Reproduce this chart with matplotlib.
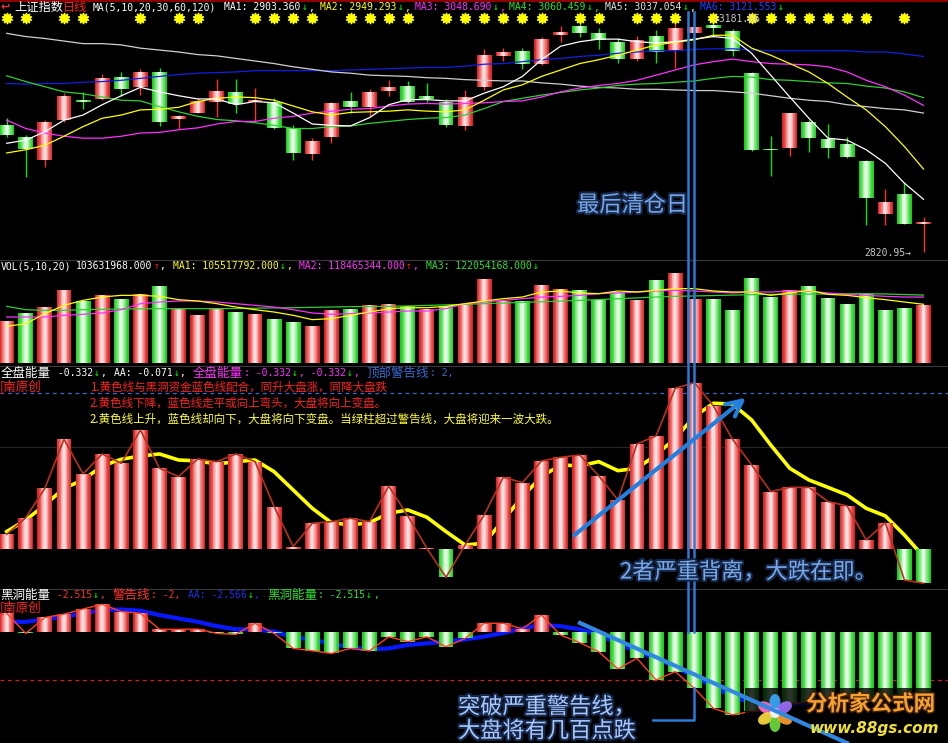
import matplotlib
matplotlib.use('Agg')
import matplotlib.pyplot as plt
import matplotlib.colors as mcolors
import matplotlib.patheffects as pe
from matplotlib.lines import Line2D
from matplotlib.patches import Rectangle, Ellipse, Circle, FancyArrowPatch
import numpy as np

W, H = 948, 743

# ---- daily candles (上证指数) ----
opens = [3018.4, 2999.8, 2964.0, 3026.2, 3057.3, 3058.4, 3092.6, 3077.1, 3100.4, 3027.3,
         3037.6, 3054.7, 3069.3, 3054.2, 3054.7, 3013.3, 2973.4, 3000.3, 3055.8, 3046.9,
         3071.8, 3079.1, 3063.5, 3054.7, 3016.9, 3077.1, 3126.2, 3133.5, 3113.3, 3158.4,
         3172.4, 3162.0, 3147.0, 3121.1, 3156.8, 3133.5, 3161.5, 3173.9, 3164.6, 3099.8,
         2981.9, 2982.2, 3023.6, 2996.7, 2988.9, 2962.9, 2880.1, 2911.2, 2864.0]
highs = [3029.3, 3002.9, 3026.2, 3068.2, 3070.2, 3097.7, 3100.4, 3105.1, 3106.6, 3034.0,
         3060.4, 3090.0, 3089.5, 3075.5, 3060.9, 3018.4, 2997.8, 3054.7, 3069.3, 3074.0,
         3088.4, 3086.9, 3083.3, 3058.4, 3072.9, 3136.6, 3137.7, 3137.7, 3155.7, 3172.4,
         3178.6, 3169.3, 3153.7, 3156.8, 3166.2, 3177.0, 3175.5, 3181.66, 3167.7, 3101.3,
         3001.3, 3037.1, 3026.2, 3020.0, 2999.3, 2964.0, 2918.5, 2930.3, 2875.9]
lows = [2999.8, 2938.1, 2953.6, 3023.6, 3043.3, 3057.3, 3064.0, 3065.1, 3016.9, 3012.2,
        3037.1, 3031.3, 3037.6, 3025.1, 3012.2, 2964.0, 2964.0, 2990.0, 3036.6, 3032.4,
        3064.0, 3052.7, 3054.7, 3014.9, 3010.7, 3072.9, 3118.4, 3105.5, 3112.2, 3147.0,
        3155.3, 3136.6, 3114.4, 3118.4, 3114.4, 3106.6, 3156.8, 3155.3, 3126.2, 2978.5,
        2939.6, 2970.3, 2976.9, 2966.7, 2966.7, 2863.0, 2863.0, 2864.5, 2820.95]
closes = [3002.9, 2981.1, 3023.6, 3064.0, 3054.7, 3091.1, 3074.4, 3100.4, 3023.6, 3032.4,
          3055.8, 3071.3, 3051.1, 3055.3, 3013.3, 2975.4, 2993.6, 3053.1, 3046.0, 3070.2,
          3077.1, 3054.7, 3058.4, 3018.4, 3062.5, 3127.3, 3131.5, 3112.8, 3152.2, 3163.5,
          3161.5, 3150.6, 3121.1, 3150.6, 3132.4, 3169.3, 3170.8, 3169.3, 3134.0, 2979.6,
          2978.9, 3036.6, 2998.7, 2982.2, 2968.2, 2905.4, 2899.2, 2864.5, 2868.1]
prev_close = 2995.0

ma5 = [2990, 2995, 3008, 3026, 3034, 3050, 3064, 3077, 3070, 3064, 3059, 3059, 3050, 3055,
       3053, 3037, 3020, 3018, 3017, 3030, 3050, 3058, 3058, 3056, 3056, 3068, 3078, 3094,
       3120, 3141, 3148, 3152, 3152, 3148, 3146, 3148, 3152, 3156, 3153, 3130, 3096, 3062,
       3029, 2998, 2995, 2980, 2959, 2928, 2903]
ma10 = [2975, 2980, 2987, 3001, 3016, 3029, 3034, 3042, 3043, 3046, 3055, 3060, 3062, 3061,
        3057, 3048, 3039, 3034, 3038, 3039, 3040, 3042, 3040, 3039, 3042, 3057, 3073, 3081,
        3094, 3104, 3114, 3120, 3127, 3135, 3143, 3147, 3151, 3158, 3158, 3138, 3127, 3114,
        3101, 3083, 3062, 3042, 3016, 2985, 2950]
ma20 = [3026, 3013, 3006, 3001, 2998, 2998, 3001, 3006, 3007, 3011, 3014, 3020, 3024, 3024,
        3029, 3032, 3037, 3040, 3043, 3044, 3048, 3051, 3052, 3051, 3052, 3053, 3055, 3056,
        3062, 3070, 3076, 3080, 3083, 3088, 3096, 3104, 3112, 3117, 3121, 3117, 3114, 3113,
        3112, 3109, 3101, 3088, 3078, 3065, 3049]
ma30 = [3095, 3086, 3078, 3070, 3067, 3062, 3057, 3056, 3047, 3039, 3032, 3027, 3025, 3022,
        3018, 3013, 3013, 3016, 3017, 3021, 3024, 3027, 3029, 3030, 3034, 3044, 3055, 3060,
        3065, 3069, 3073, 3076, 3080, 3082, 3083, 3085, 3087, 3091, 3094, 3093, 3089, 3088,
        3086, 3084, 3083, 3079, 3076, 3070, 3061]
ma60 = [3161, 3156, 3153, 3149, 3145, 3145, 3143, 3138, 3135, 3132, 3128, 3126, 3122, 3118,
        3114, 3109, 3105, 3101, 3099, 3096, 3095, 3094, 3092, 3091, 3089, 3088, 3087, 3087,
        3084, 3082, 3079, 3077, 3076, 3074, 3074, 3073, 3072, 3072, 3070, 3068, 3064, 3060,
        3057, 3055, 3050, 3047, 3044, 3042, 3037]
ma120 = [3083, 3082, 3083, 3083, 3085, 3086, 3088, 3091, 3094, 3097, 3099, 3100, 3101, 3103,
         3103, 3103, 3103, 3103, 3104, 3105, 3106, 3107, 3108, 3108, 3110, 3113, 3114, 3117,
         3120, 3122, 3125, 3127, 3130, 3132, 3134, 3134, 3136, 3137, 3137, 3135, 3134, 3134,
         3134, 3134, 3134, 3132, 3132, 3129, 3125]
info_days = [0, 1, 3, 4, 7, 9, 10, 13, 14, 15, 16, 18, 19, 20, 21, 23, 24, 25, 26, 27, 28,
             30, 31, 33, 34, 35, 37, 39, 40, 41, 42, 43, 44, 45, 47]

# ---- volume, millions ----
volume = [75.5, 89.9, 100.6, 130.6, 111.4, 121.6, 115.6, 123.4, 137.8, 97.6, 85.7, 99.4, 91.6,
          87.5, 78.5, 73.7, 65.9, 95.8, 97.6, 103.6, 106.6, 101.8, 97.6, 101.8, 106.6, 151.5,
          111.4, 111.4, 140.8, 133.6, 131.8, 113.8, 127.6, 113.8, 148.6, 161.7, 115.6, 115.6,
          95.8, 153.3, 118.6, 131.8, 137.8, 117.4, 105.4, 124.6, 95.8, 99.4, 103.6]
vol_ma5 = [65.9, 70.7, 88.7, 103.6, 112.6, 118.6, 121.6, 121.6, 119.8, 113.8, 111.4, 106.6,
           100.6, 95.8, 91.6, 85.7, 77.9, 79.7, 85.7, 91.6, 97.6, 99.4, 99.4, 101.8, 106.6,
           111.4, 115.6, 118.6, 127.6, 129.4, 125.8, 124.6, 129.4, 127.6, 130.6, 133.6, 133.6,
           129.4, 127.6, 127.6, 121.6, 125.8, 130.6, 123.4, 121.6, 117.4, 113.8, 109.6, 105.5]
vol_ma10 = [82.7, 82.7, 82.7, 85.7, 87.5, 89.9, 95.8, 106.6, 109.6, 111.4, 111.4, 109.6, 106.6,
            103.6, 100.6, 95.8, 89.9, 87.5, 88.7, 89.9, 91.6, 93.4, 93.4, 97.6, 106.6, 109.6,
            112.6, 115.6, 118.6, 119.8, 121.6, 124.6, 125.8, 127.6, 129.4, 130.6, 129.4, 127.6,
            125.8, 127.6, 127.6, 129.4, 129.4, 125.8, 123.4, 121.6, 119.8, 118.6, 118.5]
vol_ma20 = [101.8, 95.8, 94.6, 94.6, 95.8, 96.5, 97.0, 97.3, 97.6, 97.6, 97.6, 97.6, 98.0, 98.5,
            99.0, 99.4, 100.0, 100.6, 101.2, 101.5, 101.8, 102.5, 103.5, 104.5, 105.5, 106.6,
            107.8, 109.0, 110.0, 111.2, 112.6, 114.0, 115.5, 117.0, 118.5, 119.8, 120.5, 121.2,
            122.0, 122.8, 123.4, 123.6, 123.8, 124.0, 124.3, 124.6, 124.0, 123.0, 122.1]

# ---- 全盘能量 ----
energy = [0.146, 0.309, 0.596, 1.074, 0.736, 0.931, 0.84, 1.165, 0.791, 0.71, 0.882, 0.856,
          0.931, 0.856, 0.417, 0.026, 0.254, 0.27, 0.303, 0.27, 0.618, 0.326, 0.01, -0.273,
          0.042, 0.335, 0.703, 0.651, 0.863, 0.898, 0.921, 0.716, 0.482, 1.029, 1.107, 1.572,
          1.628, 1.4, 1.074, 0.824, 0.563, 0.605, 0.605, 0.466, 0.423, 0.091, 0.26, -0.30, -0.332]
energy_aa = [0.173, 0.286, 0.433, 0.596, 0.677, 0.814, 0.879, 0.911, 0.931, 0.872, 0.863, 0.833,
             0.856, 0.872, 0.758, 0.579, 0.4, 0.26, 0.238, 0.26, 0.352, 0.384, 0.313, 0.173,
             0.042, 0.059, 0.286, 0.514, 0.71, 0.824, 0.814, 0.856, 0.768, 0.791, 0.921, 1.084,
             1.296, 1.426, 1.419, 1.263, 1.019, 0.791, 0.677, 0.605, 0.531, 0.4, 0.326, 0.14, -0.071]
top_line = 1.53

# ---- 黑洞能量 ----
hole = [0.76, -0.07, 0.59, 0.73, 0.94, 1.14, 0.83, 0.76, 0.10, 0.10, 0.11, -0.07, -0.11, 0.35,
        -0.07, -0.69, -0.79, -0.90, -0.69, -0.79, -0.21, -0.41, -0.21, -0.62, -0.28, 0.35, 0.35,
        0.12, 0.69, -0.14, -0.45, -0.83, -1.54, -1.10, -2.0, -1.65, -2.34, -3.17, -3.44, -3.3,
        -3.3, -3.0, -2.9, -2.8, -2.7, -2.9, -2.7, -2.6, -2.515]
hole_aa = [0.41, 0.41, 0.51, 0.62, 0.76, 0.9, 0.92, 0.87, 0.69, 0.55, 0.41, 0.23, 0.1, 0.1, 0.0,
           -0.21, -0.34, -0.48, -0.65, -0.73, -0.69, -0.55, -0.48, -0.41, -0.32, -0.2, -0.05,
           0.14, 0.28, 0.23, 0.1, -0.14, -0.48, -0.83, -1.1, -1.45, -1.86, -2.28, -2.69, -2.95,
           -3.05, -3.0, -2.95, -2.9, -2.85, -2.8, -2.7, -2.63, -2.566]
warn_line = -2

RED, GREEN = '#ff3030', '#10e010'
CJK = ['Noto Sans CJK SC', 'DejaVu Sans']
MONO = ['DejaVu Sans Mono', 'Noto Sans CJK SC']
STEP, X0 = 19.1, 6.7
x = np.arange(len(closes))

fig = plt.figure(figsize=(W / 100, H / 100), dpi=100, facecolor='black')


def panel(top, bottom, ylo, yhi):
    ax = fig.add_axes([0, 1 - bottom / H, 1, (bottom - top) / H])
    ax.set_xlim(-X0 / STEP, (W - X0) / STEP)
    ax.set_ylim(ylo, yhi)
    ax.set_axis_off()
    return ax


def cyl(ax, xs, bottoms, heights, edge, light, width=0.8, z=3, layers=9):
    # fake the shaded "cylinder" bars with nested bars
    e = np.array(mcolors.to_rgb(edge))
    l = np.array(mcolors.to_rgb(light))
    for k in range(layers):
        t = k / (layers - 1)
        ax.bar(xs, heights, width=width * (1 - 0.85 * t), bottom=bottoms,
               color=e + (l - e) * t ** 1.2, linewidth=0, zorder=z)


def put(px, py, s, color, size=7.0, fam=MONO, **kw):
    return fig.text(px / 100, (H - py) / 100, s, color=color, fontsize=size, family=fam,
                    va='center', ha='left', transform=fig.dpi_scale_trans, **kw)


def seq(px, py, parts):
    # write coloured pieces one after another
    r = fig.canvas.get_renderer()
    for p in parts:
        s, col = p[0], p[1]
        size = p[2] if len(p) > 2 else 7.0
        fam = p[3] if len(p) > 3 else MONO
        t = put(px, py, s, col, size, fam)
        px += t.get_window_extent(renderer=r).width + 1


def fline(xs, ys, **kw):
    fig.add_artist(Line2D(np.array(xs) / 100, (H - np.array(ys)) / 100,
                          transform=fig.dpi_scale_trans, **kw))


# ---------------- price panel ----------------
ax_k = panel(10, 259, 2810.1, 3197.3)
o, c = np.array(opens), np.array(closes)
hi, lo = np.array(highs), np.array(lows)
up = c >= o
for m, col in [(up, RED), (~up, GREEN)]:
    ax_k.vlines(x[m], lo[m], hi[m], color=col, lw=1.0, zorder=2)
body_lo = np.minimum(o, c)
body_h = np.maximum(np.abs(c - o), 2.4)
cyl(ax_k, x[up], body_lo[up], body_h[up], '#e02020', '#ffe0e0', width=0.78)
cyl(ax_k, x[~up], body_lo[~up], body_h[~up], '#18d018', '#e8ffe8', width=0.78)
for vals, col in [(ma120, '#1020e0'), (ma60, '#d0d0d0'), (ma30, '#30d030'),
                  (ma20, '#ff30ff'), (ma10, '#ffff00'), (ma5, '#ffffff')]:
    ax_k.plot(x, vals, color=col, lw=0.9, zorder=4)
ax_k.plot(info_days, [0.967] * len(info_days), transform=ax_k.get_xaxis_transform(),
          ls='', marker=(10, 1, 0), ms=8, color='#ffff00', zorder=5)

# ---------------- volume panel ----------------
ax_v = panel(260, 365, -3.6, 185.1)
cl = np.array(closes)
vol_up = cl >= np.concatenate([[prev_close], cl[:-1]])
vol = np.array(volume)
cyl(ax_v, x[vol_up], 0, vol[vol_up], '#e02020', '#ffe0e0', width=0.78)
cyl(ax_v, x[~vol_up], 0, vol[~vol_up], '#18d018', '#e8ffe8', width=0.78)
ax_v.plot(x, vol_ma20, color='#30d030', lw=0.9, zorder=4)
ax_v.plot(x, vol_ma10, color='#ff30ff', lw=0.9, zorder=4)
ax_v.plot(x, vol_ma5, color='#ffff00', lw=0.9, zorder=4)

# ---------------- 全盘能量 panel ----------------
ax_e = panel(366, 588, -0.378, 1.79)
ax_e.axhline(1.0, color='#262626', lw=0.8, zorder=1)
ax_e.axhline(top_line, color='#3a6ad0', lw=0.9, ls=(0, (3, 3)), zorder=1)
en = np.array(energy)
pos = en >= 0
ax_e.plot(x, energy_aa, color='#ffff00', lw=2.6, zorder=2)
cyl(ax_e, x[pos], 0, en[pos], '#e02020', '#ffe0e0', width=0.78)
cyl(ax_e, x[~pos], 0, en[~pos], '#18d018', '#e8ffe8', width=0.78)
ax_e.plot(x, en, color='#b83020', lw=1.2, zorder=4)

# ---------------- 黑洞能量 panel ----------------
ax_b = panel(589, 743, -4.61, 1.77)
ax_b.axhline(warn_line, color='#d02020', lw=0.9, ls=(0, (3, 3)), zorder=1)
hb = np.array(hole)
pos = hb >= 0
ax_b.plot(x, hole_aa, color='#0818ff', lw=3, zorder=2)
cyl(ax_b, x[pos], 0, hb[pos], '#e02020', '#ffe0e0', width=0.78)
cyl(ax_b, x[~pos], 0, hb[~pos], '#18d018', '#e8ffe8', width=0.78)
ax_b.plot(x, hb, color='#ff4020', lw=1.0, zorder=4)

# ---------------- frame lines ----------------
fline([0, W], [1, 1], color='#8b0000', lw=1.5)
for yy in [259.5, 365.5, 588.5]:
    fline([0, W], [yy, yy], color='#3a3a3a', lw=0.8)

# ---------------- headers ----------------
G, WH = '#00ff00', 'white'
put(0, 7.5, '↩', '#ff3030', 8, ['DejaVu Sans'], weight='bold')
put(14, 7.5, '上证指数', WH, 8.8, CJK)
put(63, 7.5, '日线', '#ff2020', 8.8, CJK)
put(93, 7.5, 'MA(5,10,20,30,60,120)', WH)
seq(224, 7.5, [('MA1: 2903.360', WH), ('↓', G), (',', WH)])
seq(320, 7.5, [('MA2: 2949.293', '#ffff00'), ('↓', G), (',', '#ffff00')])
seq(415, 7.5, [('MA3: 3048.690', '#ff30ff'), ('↓', G), (',', '#ff30ff')])
seq(509, 7.5, [('MA4: 3060.459', '#30e030'), ('↓', G), (',', '#30e030')])
seq(605, 7.5, [('MA5: 3037.054', '#e0e0e0'), ('↓', G), (',', '#e0e0e0')])
seq(700, 7.5, [('MA6: 3121.553', '#2040ff'), ('↓', G)])
put(714, 19, '←3181.66', '#c8c8c8')
put(864, 253, '2820.95→', '#c8c8c8')

put(1, 266, 'VOL(5,10,20)', WH)
seq(76, 266, [('103631968.000', WH), ('↑', '#ff2020'), (', ', WH),
              ('MA1: 105517792.000', '#ffff00'), ('↓', G), (', ', '#ffff00'),
              ('MA2: 118465344.000', '#ff30ff'), ('↑', '#ff2020'), (', ', '#ff30ff'),
              ('MA3: 122054168.000', '#30e030'), ('↓', G)])

seq(1, 373, [('全盘能量', WH, 9, CJK), (' -0.332', WH), ('↓', G), (', ', WH),
             ('AA: -0.071', WH), ('↓', G), (', ', WH),
             ('全盘能量', '#ff30ff', 9, CJK), (': -0.332', '#ff30ff'), ('↓', G),
             (', -0.332', '#ff30ff'), ('↓', G), (', ', '#ff30ff'),
             ('顶部警告线', '#3a6ad0', 9, CJK), (': 2,', '#3a6ad0')])
put(0, 387, '[南原创', '#ff2020', 9, CJK)
put(90, 387, '1.黄色线与黑洞资金蓝色线配合，同升大盘涨，同降大盘跌', '#ff2020', 8.3, CJK)
put(90, 403, '2.黄色线下降，蓝色线走平或向上弯头，大盘将向上变盘。', '#ff2020', 8.3, CJK)
put(90, 419.5, '2.黄色线上升，蓝色线却向下，大盘将向下变盘。当绿柱超过警告线，大盘将迎来一波大跌。',
    '#ffff30', 8.3, CJK)

seq(0, 595, [('黑洞能量', WH, 9, CJK), (' -2.515', '#ff3030'), ('↓', G), (', ', '#ff3030'),
             ('警告线', '#ff3030', 9, CJK), (': -2, ', '#ff3030'),
             ('AA: -2.566', '#2030e0'), ('↓', G), (', ', '#2030e0'),
             ('黑洞能量', '#30e030', 9, CJK), (': -2.515', '#30e030'), ('↓', G),
             (',', '#30e030')])
put(0, 608, '[南原创', '#ff2020', 9, CJK)

# ---------------- hand-drawn annotations ----------------
glow = [pe.withStroke(linewidth=3, foreground='#16284a')]
put(577, 205, '最后清仓日', '#78a8e8', 16, CJK, path_effects=glow)
put(620, 572, '2者严重背离，大跌在即。', '#78a8e8', 16, CJK, path_effects=glow)

blue = '#2a7ad8'
fline([687.7, 687.7], [12, 631.7], color=blue, lw=1.8)
fline([694.3, 694.3], [12, 631.7], color=blue, lw=1.8)
fline([694.3, 694.3, 653], [688, 720, 720], color=blue, lw=1.8)

fig.add_artist(FancyArrowPatch((572 / 100, (H - 537) / 100), (748 / 100, (H - 396) / 100),
                               transform=fig.dpi_scale_trans, arrowstyle='->',
                               mutation_scale=28, lw=3, color='#2080e0'))
fline([580, 847], [623, 743], color='#3088e0', lw=3)

fig.add_artist(Rectangle((745 / 100, 0), 203 / 100, (H - 688) / 100,
                         transform=fig.dpi_scale_trans, fc='black', ec='none', alpha=0.8))
petals = ['#3aa8ff', '#ff70c8', '#ffe040', '#70e040', '#ffa030', '#a070ff']
for k, pc in enumerate(petals):
    a = np.deg2rad(90 + 60 * k)
    cx, cy = 775 + 11 * np.cos(a), 713 - 11 * np.sin(a)
    fig.add_artist(Ellipse((cx / 100, (H - cy) / 100), 0.16, 0.11, angle=np.rad2deg(a),
                           transform=fig.dpi_scale_trans, fc=pc, ec='none', alpha=0.9))
fig.add_artist(Circle((775 / 100, (H - 713) / 100), 0.05, transform=fig.dpi_scale_trans,
                      fc='#f0f0f0', ec='none'))
put(806, 704, '分析家公式网', '#f5a030', 15.5, CJK, weight='bold',
    path_effects=[pe.withStroke(linewidth=2, foreground='#402000')])
put(810, 729, 'www.88gs.com', '#f0e030', 11, ['DejaVu Sans'], weight='bold', style='italic')

bl = '#a8c8ff'
put(458, 707, '突破严重警告线，', bl, 16, CJK, path_effects=glow)
put(458, 731, '大盘将有几百点跌', bl, 16, CJK, path_effects=glow)

fig.savefig('out.png', dpi=100, facecolor='black')
